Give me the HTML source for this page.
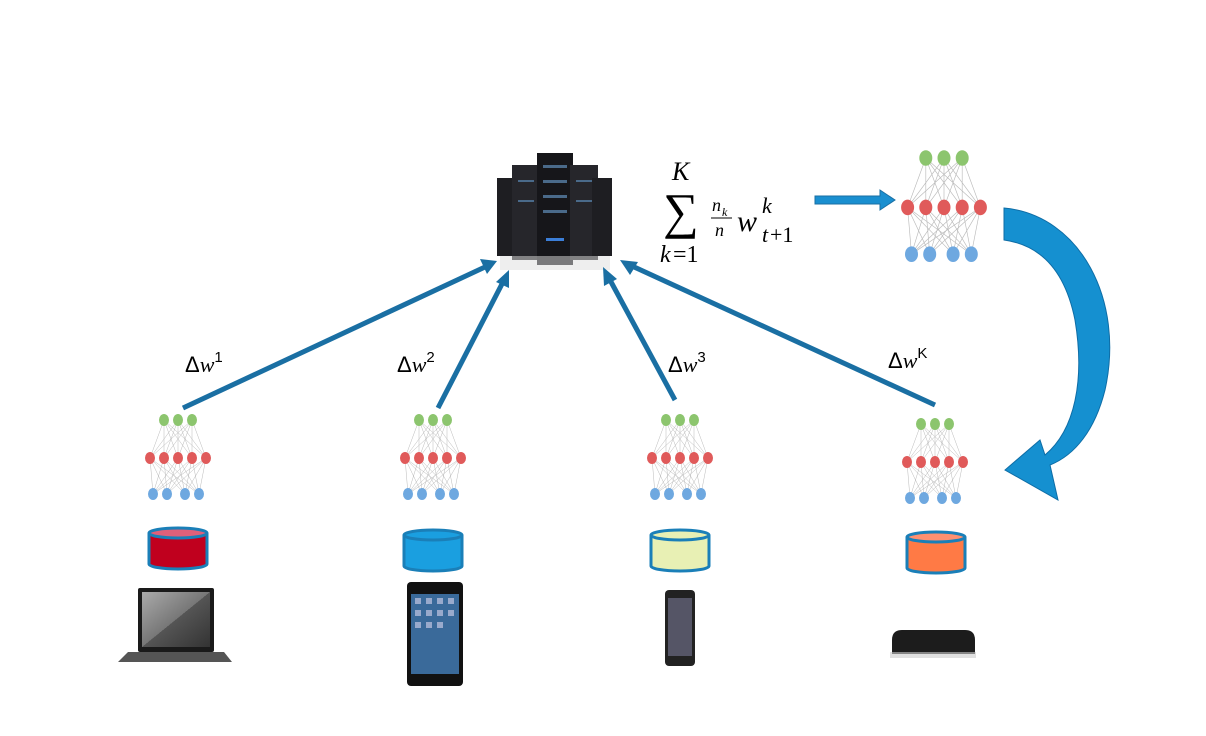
<!DOCTYPE html>
<html><head><style>body{margin:0;background:#fff}svg{display:block}</style></head><body>
<svg width="1206" height="736" viewBox="0 0 1206 736" xmlns="http://www.w3.org/2000/svg" font-family="Liberation Serif, serif">
<defs>
<g id="nn">
<g stroke="#bbb" stroke-width="0.5">
<path d="M-14,0L-28,38M-14,0L-14,38M-14,0L0,38M-14,0L14,38M-14,0L28,38M0,0L-28,38M0,0L-14,38M0,0L0,38M0,0L14,38M0,0L28,38M14,0L-28,38M14,0L-14,38M14,0L0,38M14,0L14,38M14,0L28,38"/>
<path d="M-28,38L-25,74M-28,38L-11,74M-28,38L7,74M-28,38L21,74M-14,38L-25,74M-14,38L-11,74M-14,38L7,74M-14,38L21,74M0,38L-25,74M0,38L-11,74M0,38L7,74M0,38L21,74M14,38L-25,74M14,38L-11,74M14,38L7,74M14,38L21,74M28,38L-25,74M28,38L-11,74M28,38L7,74M28,38L21,74"/>
</g>
<g fill="#8cc56e"><ellipse cx="-14" cy="0" rx="5" ry="6"/><ellipse cx="0" cy="0" rx="5" ry="6"/><ellipse cx="14" cy="0" rx="5" ry="6"/></g>
<g fill="#e05a5a"><ellipse cx="-28" cy="38" rx="5" ry="6"/><ellipse cx="-14" cy="38" rx="5" ry="6"/><ellipse cx="0" cy="38" rx="5" ry="6"/><ellipse cx="14" cy="38" rx="5" ry="6"/><ellipse cx="28" cy="38" rx="5" ry="6"/></g>
<g fill="#6ea8e0"><ellipse cx="-25" cy="74" rx="5" ry="6"/><ellipse cx="-11" cy="74" rx="5" ry="6"/><ellipse cx="7" cy="74" rx="5" ry="6"/><ellipse cx="21" cy="74" rx="5" ry="6"/></g>
</g>
<linearGradient id="scr" x1="0" y1="0" x2="1" y2="1"><stop offset="0" stop-color="#aaa"/><stop offset="0.5" stop-color="#777"/><stop offset="0.5" stop-color="#555"/><stop offset="1" stop-color="#333"/></linearGradient>
</defs>

<!-- server -->
<g>
<rect x="497" y="178" width="22" height="78" fill="#1e1e22"/>
<rect x="512" y="165" width="28" height="95" fill="#26262b"/>
<rect x="537" y="153" width="36" height="112" fill="#16161a"/>
<rect x="570" y="165" width="28" height="95" fill="#26262b"/>
<rect x="592" y="178" width="20" height="78" fill="#1e1e22"/>
<g fill="#4a6a8a"><rect x="543" y="165" width="24" height="3"/><rect x="543" y="180" width="24" height="3"/><rect x="543" y="195" width="24" height="3"/><rect x="543" y="210" width="24" height="3"/><rect x="546" y="238" width="18" height="3" fill="#3b7ed8"/><rect x="518" y="180" width="16" height="2"/><rect x="518" y="200" width="16" height="2"/><rect x="576" y="180" width="16" height="2"/><rect x="576" y="200" width="16" height="2"/></g>
<rect x="500" y="256" width="110" height="14" fill="#ddd" opacity="0.5"/>
</g>

<!-- formula -->
<text x="672" y="180" font-size="26" font-style="italic">K</text>
<text x="663" y="228" font-size="50">∑</text>
<text x="660" y="262" font-size="24" font-style="italic">k</text><text x="673" y="262" font-size="24">=1</text>
<text x="712" y="211" font-size="18" font-style="italic">n</text><text x="722" y="216" font-size="12" font-style="italic">k</text>
<line x1="711" y1="218" x2="732" y2="218" stroke="#000" stroke-width="1"/>
<text x="715" y="236" font-size="18" font-style="italic">n</text>
<text x="737" y="231" font-size="30" font-style="italic">w</text>
<text x="762" y="213" font-size="22" font-style="italic">k</text>
<text x="762" y="242" font-size="22" font-style="italic">t</text><text x="770" y="242" font-size="22">+1</text>

<!-- right arrow -->
<path d="M815,196 L880,196 L880,190 L895,200 L880,210 L880,204 L815,204 Z" fill="#1a8fd0" stroke="#1a6fa3" stroke-width="1"/>

<!-- big net -->
<g transform="translate(944,158) scale(1.3)"><use href="#nn"/></g>

<!-- curved arrow -->
<path d="M1004,208 C1080,215 1125,300 1105,390 C1095,430 1075,455 1050,465 L1058,500 L1005,470 L1040,440 L1045,455 C1075,430 1085,380 1075,320 C1065,270 1040,245 1004,240 Z" fill="#1590d0" stroke="#0e6da6" stroke-width="1"/>

<!-- arrows -->
<g stroke="#1a6fa3" stroke-width="5" fill="#1a6fa3">
<line x1="183" y1="408" x2="485" y2="267"/>
<line x1="438" y1="408" x2="503" y2="282"/>
<line x1="675" y1="400" x2="610" y2="280"/>
<line x1="935" y1="405" x2="632" y2="266"/>
</g>
<g fill="#1a6fa3">
<polygon points="497,261 480,259 487,274"/>
<polygon points="509,270 496,282 509,288"/>
<polygon points="603,267 604,286 617,279"/>
<polygon points="620,260 630,275 638,262"/>
</g>

<!-- labels -->
<g font-family="Liberation Sans, sans-serif" font-size="22">
<text x="185" y="372">Δ<tspan font-family="Liberation Serif, serif" font-style="italic">w</tspan><tspan font-size="15" dy="-10">1</tspan></text>
<text x="397" y="372">Δ<tspan font-family="Liberation Serif, serif" font-style="italic">w</tspan><tspan font-size="15" dy="-10">2</tspan></text>
<text x="668" y="372">Δ<tspan font-family="Liberation Serif, serif" font-style="italic">w</tspan><tspan font-size="15" dy="-10">3</tspan></text>
<text x="888" y="368">Δ<tspan font-family="Liberation Serif, serif" font-style="italic">w</tspan><tspan font-size="15" dy="-10">K</tspan></text>
</g>

<!-- small nets -->
<use href="#nn" x="178" y="420"/>
<use href="#nn" x="433" y="420"/>
<use href="#nn" x="680" y="420"/>
<use href="#nn" x="935" y="424"/>

<!-- cylinders -->
<g stroke="#1a7fb8" stroke-width="3">
<path d="M149,533 L149,564 A29,5 0 0 0 207,564 L207,533" fill="#c0001e"/><ellipse cx="178" cy="533" rx="29" ry="5" fill="#e0607a"/>
<path d="M404,535 L404,566 A29,5 0 0 0 462,566 L462,535" fill="#1a9fe0"/><ellipse cx="433" cy="535" rx="29" ry="5" fill="#1a9fe0"/>
<path d="M651,535 L651,566 A29,5 0 0 0 709,566 L709,535" fill="#e8f0b4"/><ellipse cx="680" cy="535" rx="29" ry="5" fill="#e8f0b4"/>
<path d="M907,537 L907,568 A29,5 0 0 0 965,568 L965,537" fill="#ff7a45"/><ellipse cx="936" cy="537" rx="29" ry="5" fill="#ff9070"/>
</g>

<!-- laptop -->
<rect x="138" y="588" width="76" height="64" rx="2" fill="#1a1a1a"/>
<rect x="142" y="592" width="68" height="55" fill="url(#scr)"/>
<path d="M128,652 L224,652 L232,662 L118,662 Z" fill="#555"/>
<!-- tablet -->
<rect x="407" y="582" width="56" height="104" rx="4" fill="#111"/>
<rect x="411" y="594" width="48" height="80" fill="#3a6a9a"/>
<g fill="#9ac"><rect x="415" y="598" width="6" height="6"/><rect x="426" y="598" width="6" height="6"/><rect x="437" y="598" width="6" height="6"/><rect x="448" y="598" width="6" height="6"/><rect x="415" y="610" width="6" height="6"/><rect x="426" y="610" width="6" height="6"/><rect x="437" y="610" width="6" height="6"/><rect x="448" y="610" width="6" height="6"/><rect x="415" y="622" width="6" height="6"/><rect x="426" y="622" width="6" height="6"/><rect x="437" y="622" width="6" height="6"/></g>
<!-- phone -->
<rect x="665" y="590" width="30" height="76" rx="4" fill="#222"/>
<rect x="668" y="598" width="24" height="58" fill="#556"/>
<!-- box -->
<path d="M892,640 Q892,630 902,630 L965,630 Q975,630 975,640 L975,654 L892,654 Z" fill="#1c1c1c"/>
<rect x="890" y="652" width="86" height="6" fill="#ccc" opacity="0.6"/>
</svg>
</body></html>
